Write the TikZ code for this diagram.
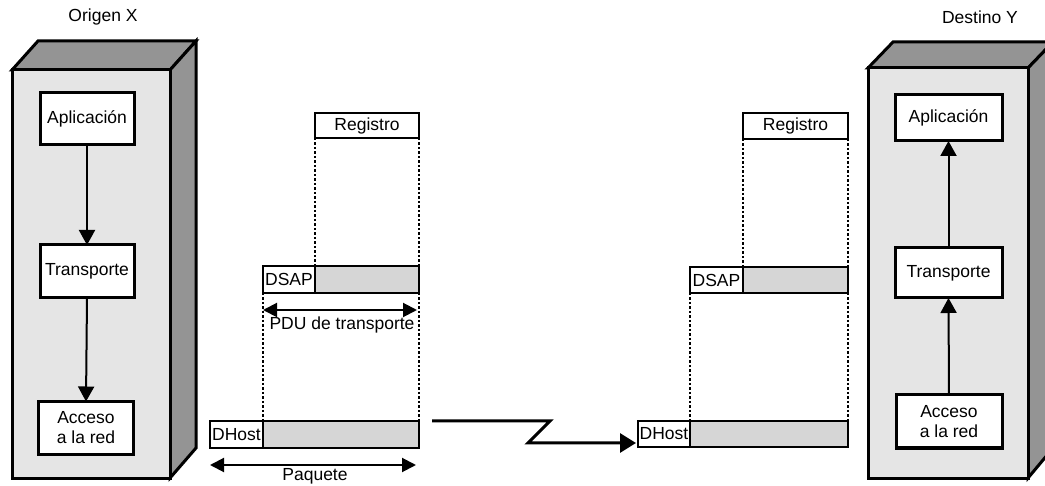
\documentclass[tikz,border=0pt]{standalone}
\usepackage{fontspec}
\setmainfont{Liberation Sans}
\usetikzlibrary{arrows.meta,calc}
\begin{document}
\begin{tikzpicture}[x=1pt,y=-1pt,
 every node/.style={font=\fontsize{17.5}{20}\selectfont},
 layer/.style={draw, fill=white, line width=3pt, inner sep=0pt, outer sep=0pt, align=center},
 cell/.style={draw, line width=1.6pt, inner sep=0pt, outer sep=0pt, anchor=north west, minimum height=26pt},
 payload/.style={cell, fill=black!16},
 guide/.style={line width=1.2pt, dash pattern=on 2.5pt off 2pt},
 flow/.style={line width=2pt, -{Triangle[length=15pt,width=16pt]}},
 span/.style={line width=2pt, {Triangle[length=14pt,width=14pt]}-{Triangle[length=14pt,width=14pt]}},
 front/.style={fill=black!10, draw, line width=3pt, line join=miter},
 shade/.style={fill=black!42, draw, line width=3pt, line join=miter},
]
\useasboundingbox (0,0) rectangle (1045,486);
\begin{scope}
\clip (0,0) rectangle (1045,486);
% ---------- left host ----------
\draw[shade] (12,70) -- (38,41) -- (196,41) -- (170,70) -- cycle;
\draw[shade] (170,70) -- (196,41) -- (196,448) -- (170,478) -- cycle;
\draw[front] (12,70) rectangle (170,478);
% ---------- right host ----------
\draw[shade] (868,68) -- (893,42) -- (1053,42) -- (1028,68) -- cycle;
\draw[shade] (1028,68) -- (1053,42) -- (1053,448) -- (1028,478) -- cycle;
\draw[front] (868,68) rectangle (1028,478);
\end{scope}

\node (titx) at (103,17) {Origen X};
\node (tity) at (980,17) {Destino Y};

% left layers
\node[layer, minimum width=94pt, minimum height=52pt] (la) at (87,119) {Aplicación};
\node[layer, minimum width=94pt, minimum height=53pt] (lt) at (87,271.5) {Transporte};
\node[layer, minimum width=95pt, minimum height=53pt] (lc) at (86,428) {Acceso\\a la red};
\draw[flow] (la.south) -- (lt.north);
\draw[flow] (lt.south) -- (lc.north);

% right layers
\node[layer, minimum width=107pt, minimum height=46pt] (ra) at (948.5,118) {Aplicación};
\node[layer, minimum width=107pt, minimum height=50pt] (rt) at (948.5,273) {Transporte};
\node[layer, minimum width=106pt, minimum height=53pt] (rc) at (949,421.5) {Acceso\\a la red};
\draw[flow] (rc.north) -- (rt.south);
\draw[flow] (rt.north) -- (ra.south);

% left PDUs
\node[cell, minimum width=104pt, minimum height=25pt] (lreg) at (315,113) {Registro};
\node[cell, minimum width=52pt, minimum height=27pt] (ldsap) at (263,266) {DSAP};
\node[payload, minimum width=104pt, minimum height=27pt] (ldsapg) at (315,266) {};
\node[cell, minimum width=53pt, minimum height=27pt] (ldh) at (210,421) {DHost};
\node[payload, minimum width=156pt, minimum height=27pt] (ldhg) at (263,421) {};
\draw[guide] (lreg.south west) -- (ldsapg.north west);
\draw[guide] (lreg.south east) -- (ldsapg.north east);
\draw[guide] (ldsap.south west) -- (ldhg.north west);
\draw[guide] (ldsapg.south east) -- (ldhg.north east);
\draw[span] ($(ldsap.south west)+(0,17)$) -- ($(ldsapg.south east)+(-2,17)$);
\node (pdu) at (342,325) {PDU de transporte};
\draw[span] ($(ldh.south west)+(0,17)$) -- ($(ldhg.south east)+(-3,17)$);
\node (paq) at (315,476) {Paquete};

% right PDUs
\node[cell, minimum width=105pt, minimum height=26pt] (rreg) at (743,113) {Registro};
\node[cell, minimum width=53pt, minimum height=26pt] (rdsap) at (690,267) {DSAP};
\node[payload, minimum width=105pt, minimum height=26pt] (rdsapg) at (743,267) {};
\node[cell, minimum width=52pt, minimum height=26pt] (rdh) at (638,421) {DHost};
\node[payload, minimum width=158pt, minimum height=26pt] (rdhg) at (690,421) {};
\draw[guide] (rreg.south west) -- (rdsapg.north west);
\draw[guide] (rreg.south east) -- (rdsapg.north east);
\draw[guide] (rdsap.south west) -- (rdhg.north west);
\draw[guide] (rdsapg.south east) -- (rdhg.north east);

% link
\coordinate (zs) at (432,421);
\draw[line width=3pt, line join=miter, -{Triangle[length=16pt,width=19pt]}]
  (zs) -- (550,421) -- (528,443) -- ($(rdh.south west)+(-2,-4)$);
\end{tikzpicture}
\end{document}
